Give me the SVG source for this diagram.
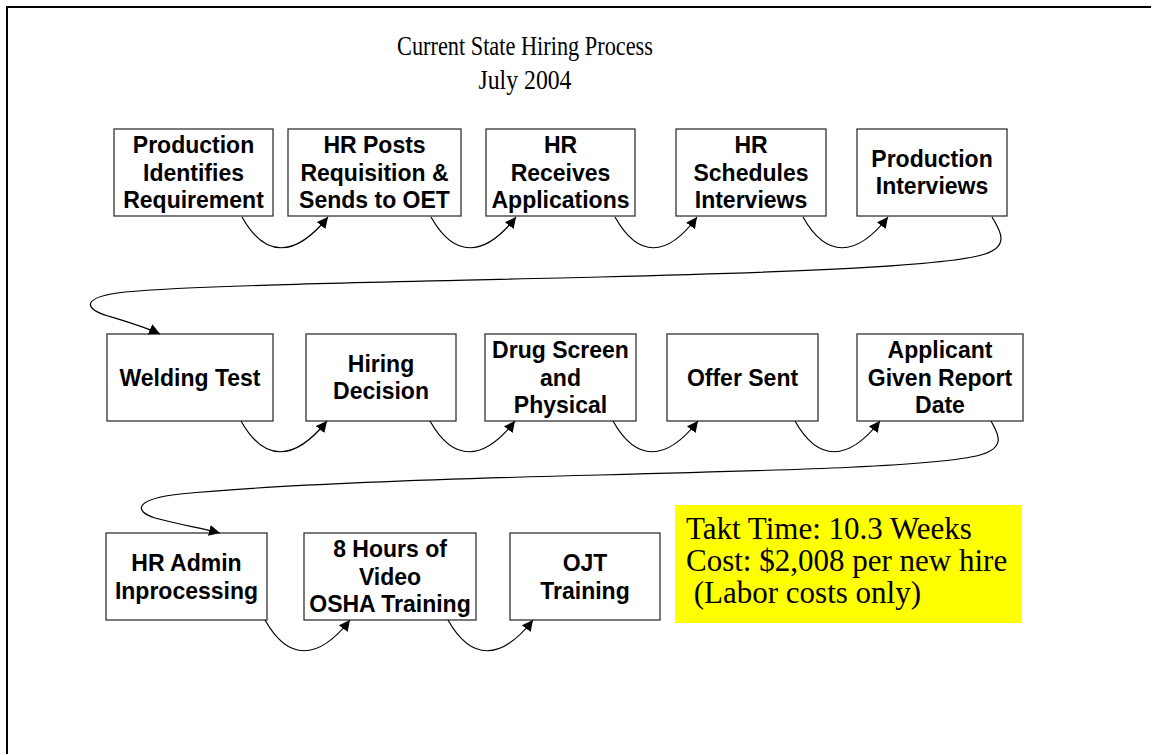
<svg xmlns="http://www.w3.org/2000/svg" width="1151" height="754" viewBox="0 0 1151 754">
<style>
.box{fill:#fff;stroke:#333;stroke-width:1.3}
.lbl{font-family:"Liberation Sans",Arial,sans-serif;font-weight:bold;font-size:23px;fill:#000;text-anchor:middle}
.ttl{font-family:"Liberation Serif","Times New Roman",serif;font-size:28px;fill:#000;text-anchor:middle}
.note{font-family:"Liberation Serif","Times New Roman",serif;font-size:31px;fill:#000}
.con{fill:none;stroke:#000;stroke-width:1.2}
</style>
<defs>
<marker id="ah" viewBox="0 0 10 10" refX="10" refY="5" markerWidth="11" markerHeight="11" markerUnits="userSpaceOnUse" orient="auto">
<path d="M0,0 L10,5 L0,10 z" fill="#000"/>
</marker>
</defs>
<rect x="7" y="7" width="1160" height="800" fill="#fff" stroke="#000" stroke-width="2"/>
<g id="title">
<text class="ttl" x="525" y="55" textLength="256" lengthAdjust="spacingAndGlyphs">Current State Hiring Process</text>
<text class="ttl" x="525" y="89" textLength="93" lengthAdjust="spacingAndGlyphs">July 2004</text>
</g>
<g id="n1"><rect class="box" x="114" y="129" width="159" height="87"/>
<text class="lbl" x="193.5"><tspan x="193.5" y="153">Production</tspan><tspan x="193.5" y="180.5">Identifies</tspan><tspan x="193.5" y="208">Requirement</tspan></text></g>
<g id="n2"><rect class="box" x="288" y="129" width="173" height="87"/>
<text class="lbl"><tspan x="374.5" y="153">HR Posts</tspan><tspan x="374.5" y="180.5">Requisition &amp;</tspan><tspan x="374.5" y="208">Sends to OET</tspan></text></g>
<g id="n3"><rect class="box" x="486" y="129" width="149" height="87"/>
<text class="lbl"><tspan x="560.5" y="153">HR</tspan><tspan x="560.5" y="180.5">Receives</tspan><tspan x="560.5" y="208">Applications</tspan></text></g>
<g id="n4"><rect class="box" x="676" y="129" width="150" height="87"/>
<text class="lbl"><tspan x="751" y="153">HR</tspan><tspan x="751" y="180.5">Schedules</tspan><tspan x="751" y="208">Interviews</tspan></text></g>
<g id="n5"><rect class="box" x="857" y="129" width="150" height="87"/>
<text class="lbl"><tspan x="932" y="166.5">Production</tspan><tspan x="932" y="194">Interviews</tspan></text></g>
<g id="n6"><rect class="box" x="107" y="334" width="166" height="87"/>
<text class="lbl" x="190" y="385.5">Welding Test</text></g>
<g id="n7"><rect class="box" x="306" y="334" width="150" height="87"/>
<text class="lbl"><tspan x="381" y="371.5">Hiring</tspan><tspan x="381" y="399">Decision</tspan></text></g>
<g id="n8"><rect class="box" x="485" y="334" width="151" height="87"/>
<text class="lbl"><tspan x="560.5" y="358">Drug Screen</tspan><tspan x="560.5" y="385.5">and</tspan><tspan x="560.5" y="413">Physical</tspan></text></g>
<g id="n9"><rect class="box" x="667" y="334" width="151" height="87"/>
<text class="lbl" x="742.5" y="385.5">Offer Sent</text></g>
<g id="n10"><rect class="box" x="857" y="334" width="166" height="87"/>
<text class="lbl"><tspan x="940" y="358">Applicant</tspan><tspan x="940" y="385.5">Given Report</tspan><tspan x="940" y="413">Date</tspan></text></g>
<g id="n11"><rect class="box" x="106" y="533" width="161" height="87"/>
<text class="lbl"><tspan x="186.5" y="571">HR Admin</tspan><tspan x="186.5" y="598.5">Inprocessing</tspan></text></g>
<g id="n12"><rect class="box" x="304" y="533" width="172" height="87"/>
<text class="lbl"><tspan x="390" y="557">8 Hours of</tspan><tspan x="390" y="584.5">Video</tspan><tspan x="390" y="612">OSHA Training</tspan></text></g>
<g id="n13"><rect class="box" x="510" y="533" width="150" height="87"/>
<text class="lbl"><tspan x="585" y="571">OJT</tspan><tspan x="585" y="598.5">Training</tspan></text></g>
<g id="note"><rect x="675" y="505" width="347" height="118" fill="#ffff00"/>
<text class="note"><tspan x="686" y="539">Takt Time: 10.3 Weeks</tspan><tspan x="686" y="571">Cost: $2,008 per new hire</tspan><tspan x="686" y="603"> (Labor costs only)</tspan></text></g>
<g id="connectors">
<path class="con" marker-end="url(#ah)" d="M242,217 C265,258 295,258 328,217"/>
<path class="con" marker-end="url(#ah)" d="M431,217 C454,258 484,258 516,217"/>
<path class="con" marker-end="url(#ah)" d="M615,217 C638,258 667,258 697,217"/>
<path class="con" marker-end="url(#ah)" d="M803,217 C826,258 856,258 888,217"/>
<path class="con" marker-end="url(#ah)" d="M992,217 C998,228 1012,245 985,254 C950,266 800,272 600,277 C400,282 200,285 125,292 C80,297 84,309 108,316 C128,322 145,327 160,334"/>
<path class="con" marker-end="url(#ah)" d="M241,421 C264,462 294,462 327,421"/>
<path class="con" marker-end="url(#ah)" d="M430,421 C453,462 483,462 515,421"/>
<path class="con" marker-end="url(#ah)" d="M613,421 C636,462 666,462 698,421"/>
<path class="con" marker-end="url(#ah)" d="M795,421 C818,462 848,462 880,421"/>
<path class="con" marker-end="url(#ah)" d="M991,421 C997,432 1008,447 980,455 C940,466 800,470 600,475 C400,480 250,487 180,494 C135,499 133,511 155,518 C177,524 200,528 220,533"/>
<path class="con" marker-end="url(#ah)" d="M265,620 C288,661 318,661 350,620"/>
<path class="con" marker-end="url(#ah)" d="M448,620 C471,661 501,661 533,620"/>
</g>
</svg>
